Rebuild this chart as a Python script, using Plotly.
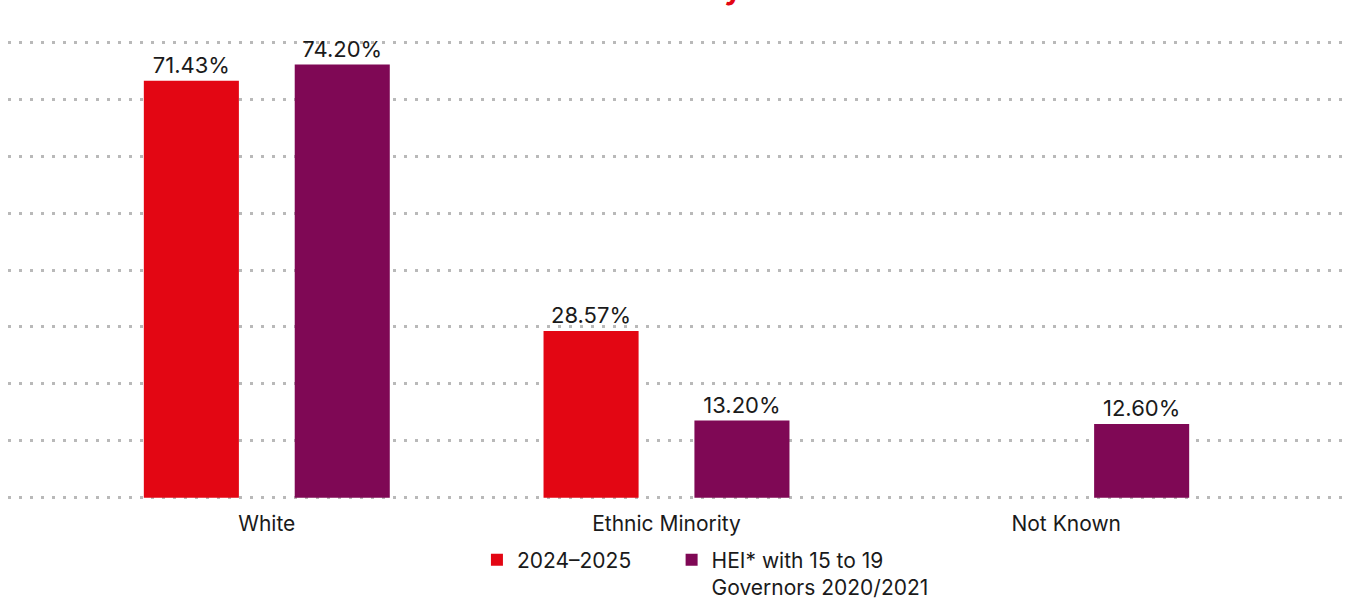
import plotly.graph_objects as go

# Board ethnicity breakdown
categories = ["White", "Ethnic Minority", "Not Known"]
series_names = ["2024\u20132025" + "\u00a0" * 6, "HEI* with 15 to 19<br>Governors 2020/2021"]
values_2024 = [71.43, 28.57, None]
values_hei = [74.20, 13.20, 12.60]

RED = "#E30613"
PURPLE = "#7F0855"
TEXT = "#1a1a1a"
FONT = "Inter, Lato, sans-serif"


def pct_labels(vals):
    return ["" if v is None else f"{v:.2f}%" for v in vals]


fig = go.Figure()
for vals, name, color in [(values_2024, series_names[0], RED),
                          (values_hei, series_names[1], PURPLE)]:
    fig.add_trace(go.Bar(
        x=categories, y=vals, name=name,
        marker=dict(color=color, line=dict(width=0)),
        text=pct_labels(vals), textposition="outside",
        textfont=dict(size=22, color=TEXT, family=FONT),
        cliponaxis=False,
    ))

# Title sits mostly above the visible page
fig.add_annotation(
    text="<b>Ethnicity</b>", xref="paper", yref="paper", x=0.5, y=1,
    xanchor="center", yanchor="bottom", yshift=32, showarrow=False,
    font=dict(size=30, color=RED, family=FONT),
)

fig.update_layout(
    width=1354, height=599,
    margin=dict(l=8, r=8, t=40, b=99, autoexpand=False),
    paper_bgcolor="white", plot_bgcolor="white",
    barmode="group", bargap=0.245, bargroupgap=0.37,
    font=dict(family=FONT, size=21, color=TEXT),
    showlegend=True,
    legend=dict(
        orientation="h", xref="container", yref="container",
        x=0.521, xanchor="center", y=0.099, yanchor="top",
        valign="top", font=dict(size=21, color=TEXT, family=FONT),
        itemwidth=30, tracegroupgap=0,
    ),
    xaxis=dict(
        range=[-0.6475, 2.7], showgrid=False, zeroline=False, showline=False,
        ticks="", ticklabelstandoff=9,
        tickfont=dict(size=21, color=TEXT, family=FONT),
    ),
    yaxis=dict(
        range=[-0.4, 78.4], dtick=9.75, tick0=0, showticklabels=False,
        showgrid=True, gridcolor="#b9b9b9", gridwidth=3,
        griddash="3px,8px", zeroline=False, showline=False,
    ),
)

fig.write_html("out.html")
